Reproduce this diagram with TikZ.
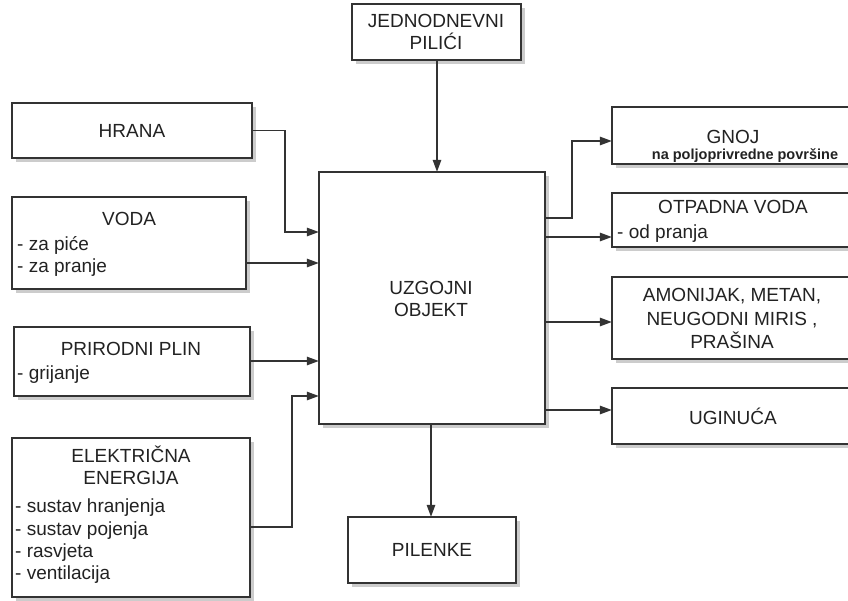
\documentclass[tikz,border=0pt]{standalone}
\usepackage{fontspec}
\setmainfont{Liberation Sans}
\usetikzlibrary{arrows.meta,shadows}
\definecolor{linec}{HTML}{333333}
\definecolor{textc}{HTML}{222222}
\begin{document}
\begin{tikzpicture}[x=1pt,y=-1pt,
  box/.style={draw=linec,line width=1.6pt,fill=white,
    drop shadow={shadow xshift=3.5pt,shadow yshift=-3.5pt,fill=black!40}},
  lbl/.style={text=textc,font=\fontsize{19}{22}\selectfont,inner sep=0pt,align=center},
  conn/.style={draw=linec,line width=1.4pt,-{Triangle[length=12pt,width=8.5pt]}}]
\useasboundingbox (0,0) rectangle (848,600);
\clip (0,0) rectangle (848,600);
% boxes
\path[box] (352,4) rectangle (521,60);
\path[box] (12,103) rectangle (252,158);
\path[box] (12,197) rectangle (246,289);
\path[box] (14,327) rectangle (250,396);
\path[box] (12,438) rectangle (250,597);
\path[box] (319,172) rectangle (545,424);
\path[box] (348,517) rectangle (516,583);
\path[box] (612,107) rectangle (860,164);
\path[box] (612,193) rectangle (860,247);
\path[box] (612,277) rectangle (860,359);
\path[box] (612,388) rectangle (860,444);
% named anchor nodes for boxes
\node[inner sep=0pt,minimum width=169pt,minimum height=56pt] (jed) at (436.5,32) {};
\node[inner sep=0pt,minimum width=240pt,minimum height=55pt] (hra) at (132,130.5) {};
\node[inner sep=0pt,minimum width=234pt,minimum height=92pt] (vod) at (129,243) {};
\node[inner sep=0pt,minimum width=236pt,minimum height=69pt] (plin) at (132,361.5) {};
\node[inner sep=0pt,minimum width=238pt,minimum height=159pt] (ele) at (131,517.5) {};
\node[inner sep=0pt,minimum width=226pt,minimum height=252pt] (obj) at (432,298) {};
\node[inner sep=0pt,minimum width=168pt,minimum height=66pt] (pil) at (432,550) {};
\node[inner sep=0pt,minimum width=248pt,minimum height=57pt] (gnoj) at (736,135.5) {};
\node[inner sep=0pt,minimum width=248pt,minimum height=54pt] (otp) at (736,220) {};
\node[inner sep=0pt,minimum width=248pt,minimum height=82pt] (amo) at (736,318) {};
\node[inner sep=0pt,minimum width=248pt,minimum height=56pt] (ugi) at (736,416) {};
% texts
\node[lbl] (tjed) at (436,32) {JEDNODNEVNI\\PILIĆI};
\node[lbl] (thra) at (132,131) {HRANA};
\node[lbl,anchor=base] (tvod) at (129,225) {VODA};
\node[lbl,anchor=base west] (tvod1) at (17,250) {- za piće};
\node[lbl,anchor=base west] (tvod2) at (17,272) {- za pranje};
\node[lbl,anchor=base] (tplin) at (131,355) {PRIRODNI PLIN};
\node[lbl,anchor=base west] (tplin1) at (17,379) {- grijanje};
\node[lbl,anchor=base] (tele) at (131,462) {ELEKTRIČNA};
\node[lbl,anchor=base] (tele2) at (131,484) {ENERGIJA};
\node[lbl,anchor=base west] (tele3) at (15,512) {- sustav hranjenja};
\node[lbl,anchor=base west] (tele4) at (15,535) {- sustav pojenja};
\node[lbl,anchor=base west] (tele5) at (15,557) {- rasvjeta};
\node[lbl,anchor=base west] (tele6) at (15,579) {- ventilacija};
\node[lbl] (tobj) at (431,299) {UZGOJNI\\OBJEKT};
\node[lbl] (tpil) at (432,550) {PILENKE};
\node[lbl,anchor=base] (tgnoj) at (733,143) {GNOJ};
\node[lbl,anchor=base,font=\bfseries\fontsize{14.5}{17}\selectfont] (tgnoj2) at (745,159) {na poljoprivredne površine};
\node[lbl,anchor=base] (totp) at (733,213) {OTPADNA VODA};
\node[lbl,anchor=base west] (totp1) at (617,238) {- od pranja};
\node[lbl,anchor=base] (tamo1) at (732,301) {AMONIJAK, METAN,};
\node[lbl,anchor=base] (tamo2) at (732,325) {NEUGODNI MIRIS ,};
\node[lbl,anchor=base] (tamo3) at (732,348) {PRAŠINA};
\node[lbl] (tugi) at (733,416) {UGINUĆA};
% connectors
\draw[conn] (jed.south -| 437,0) -- (obj.north -| 437,0);
\draw[conn] (hra.east) -- (285,130.5) -- (285,232) -- (obj.west |- 0,232);
\draw[conn] (vod.east |- 0,263) -- (obj.west |- 0,263);
\draw[conn] (plin.east |- 0,361) -- (obj.west |- 0,361);
\draw[conn] (ele.east |- 0,527) -- (292,527) -- (292,396) -- (obj.west |- 0,396);
\draw[conn] (obj.south -| 431,0) -- (pil.north -| 431,0);
\draw[conn] (obj.east |- 0,218) -- (572,218) -- (572,141) -- (gnoj.west |- 0,141);
\draw[conn] (obj.east |- 0,237) -- (otp.west |- 0,237);
\draw[conn] (obj.east |- 0,322) -- (amo.west |- 0,322);
\draw[conn] (obj.east |- 0,410) -- (ugi.west |- 0,410);
\end{tikzpicture}
\end{document}
